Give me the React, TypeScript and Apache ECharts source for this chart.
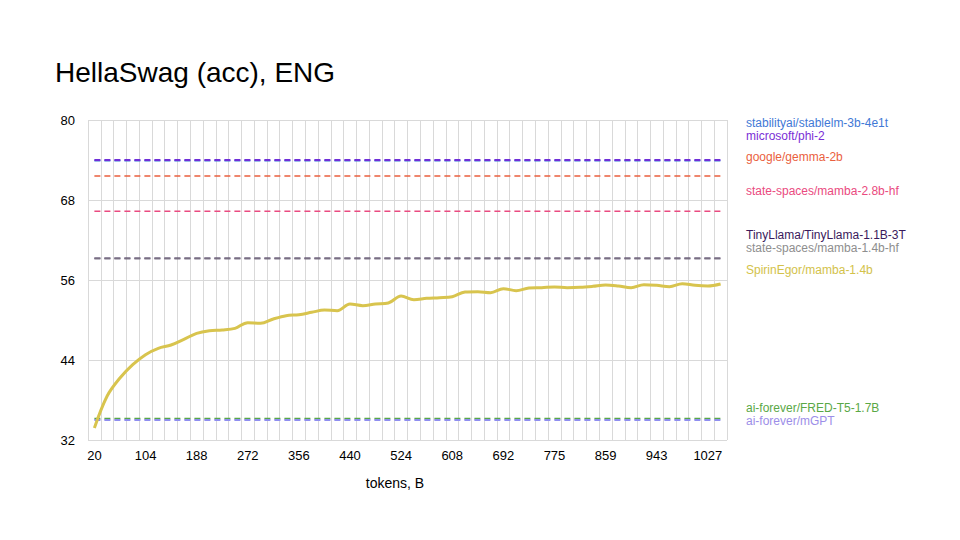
import React, { useEffect, useRef } from "react";
import * as echarts from "echarts";

// ---- data ----
const categories = [
  "20", "41", "62", "83", "104", "125", "146", "167", "188", "209",
  "230", "251", "272", "293", "314", "335", "356", "377", "398", "419",
  "440", "461", "482", "503", "524", "545", "566", "587", "608", "629",
  "650", "671", "692", "713", "733", "754", "775", "796", "817", "838",
  "859", "880", "901", "922", "943", "964", "985", "1006", "1027", "1048",
];

const spirinMamba = [
  33.8, 38.6, 41.3, 43.3, 44.8, 45.75, 46.25, 47.1, 48.0, 48.4,
  48.5, 48.75, 49.6, 49.5, 50.15, 50.65, 50.8, 51.15, 51.5, 51.4,
  52.4, 52.15, 52.4, 52.55, 53.6, 53.05, 53.25, 53.35, 53.5, 54.2,
  54.25, 54.1, 54.7, 54.4, 54.8, 54.85, 54.95, 54.85, 54.9, 55.05,
  55.25, 55.1, 54.85, 55.3, 55.2, 55.0, 55.45, 55.2, 55.1, 55.4,
];

const baselineNames = [
  "stabilityai/stablelm-3b-4e1t",
  "microsoft/phi-2",
  "google/gemma-2b",
  "state-spaces/mamba-2.8b-hf",
  "TinyLlama/TinyLlama-1.1B-3T",
  "state-spaces/mamba-1.4b-hf",
  "ai-forever/FRED-T5-1.7B",
  "ai-forever/mGPT",
];
const baselineValues = [73.9, 74.0, 71.6, 66.3, 59.25, 59.25, 35.2, 35.0];

const yTicks = [32, 44, 56, 68, 80];

// ---- styles ----
const FONT = '"Liberation Sans", Arial, Helvetica, sans-serif';
const baselineColors = [
  "#3f79d6",
  "#6f2fd8",
  "#ea5f3e",
  "#ea4a80",
  "#3a1a5c",
  "#8e8e8e",
  "#5aa846",
  "#8f8ef0",
];
const baselineOpacity = [1, 1, 1, 1, 1, 0.75, 1, 1];
const baselineWidth = [1.6, 1.8, 1.5, 1.5, 1.8, 1.8, 1.6, 2];
const mainColor = "#d8c44e";

// legend label order and vertical centres (px)
const labelOrder = [
  { name: "stabilityai/stablelm-3b-4e1t", color: "#3f79d6", y: 123 },
  { name: "microsoft/phi-2", color: "#7b2ed6", y: 136 },
  { name: "google/gemma-2b", color: "#ea5f3e", y: 157 },
  { name: "state-spaces/mamba-2.8b-hf", color: "#ea4a80", y: 191 },
  { name: "TinyLlama/TinyLlama-1.1B-3T", color: "#3a1a5c", y: 235 },
  { name: "state-spaces/mamba-1.4b-hf", color: "#8e8e8e", y: 248 },
  { name: "SpirinEgor/mamba-1.4b", color: "#d3c24a", y: 270 },
  { name: "ai-forever/FRED-T5-1.7B", color: "#5aa846", y: 408 },
  { name: "ai-forever/mGPT", color: "#9c8ee8", y: 421 },
];

export default function App() {
  const ref = useRef<HTMLDivElement>(null);

  useEffect(() => {
    if (!ref.current) return;
    const chart = echarts.init(ref.current, null, { renderer: "svg" });

    const baselineSeries = baselineNames.map((name, i) => ({
      name,
      type: "line",
      data: categories.map(() => baselineValues[i]),
      symbol: "none",
      silent: true,
      z: 2,
      lineStyle: {
        color: baselineColors[i],
        width: baselineWidth[i],
        type: [6, 4],
        opacity: baselineOpacity[i],
      },
    }));

    const option: any = {
      animation: false,
      backgroundColor: "#ffffff",
      title: {
        text: "HellaSwag (acc), ENG",
        left: 55,
        top: 58,
        padding: 0,
        textStyle: {
          fontFamily: FONT,
          fontSize: 28,
          fontWeight: "normal",
          color: "#000000",
        },
      },
      grid: { left: 88, right: 233, top: 120, bottom: 100, containLabel: false },
      xAxis: {
        type: "category",
        data: categories,
        boundaryGap: true,
        axisLine: { show: false },
        axisTick: { show: false, interval: 0 },
        axisLabel: {
          interval: 3,
          color: "#000000",
          fontFamily: FONT,
          fontSize: 13,
          margin: 9,
        },
        splitLine: {
          show: true,
          interval: 0,
          lineStyle: { color: "#d9d9d9", width: 1 },
        },
      },
      yAxis: {
        type: "value",
        min: yTicks[0],
        max: yTicks[yTicks.length - 1],
        interval: yTicks[1] - yTicks[0],
        axisLine: { show: false },
        axisTick: { show: false },
        axisLabel: {
          color: "#000000",
          fontFamily: FONT,
          fontSize: 13,
          margin: 13,
        },
        splitLine: { show: true, lineStyle: { color: "#d9d9d9", width: 1 } },
      },
      graphic: [
        ...labelOrder.map((l) => ({
          type: "text",
          x: 746,
          y: l.y,
          silent: true,
          style: {
            text: l.name,
            fill: l.color,
            fontFamily: FONT,
            fontSize: 12,
            verticalAlign: "middle",
            align: "left",
          },
        })),
        {
          type: "text",
          x: 395,
          y: 483,
          silent: true,
          style: {
            text: "tokens, B",
            fill: "#000000",
            fontFamily: FONT,
            fontSize: 14,
            verticalAlign: "middle",
            align: "center",
          },
        },
      ],
      series: [
        ...baselineSeries,
        {
          name: "SpirinEgor/mamba-1.4b",
          type: "line",
          data: spirinMamba,
          symbol: "none",
          smooth: 0.35,
          z: 3,
          lineStyle: { color: mainColor, width: 3 },
        },
      ],
    };

    chart.setOption(option);
    return () => chart.dispose();
  }, []);

  return (
    <div
      ref={ref}
      style={{ position: "fixed", left: 0, top: 0, width: 960, height: 540, background: "#fff" }}
    />
  );
}
